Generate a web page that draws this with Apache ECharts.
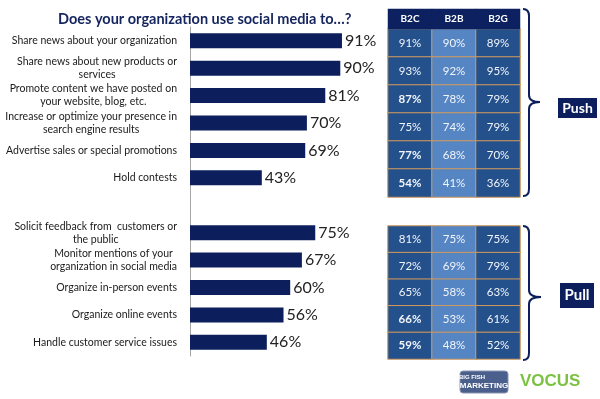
<!DOCTYPE html>
<html>
<head>
<meta charset="utf-8">
<script src="https://cdn.jsdelivr.net/npm/echarts@6/dist/echarts.min.js"></script>
<style>html,body{margin:0;padding:0;background:#fff;}#c{width:600px;height:399px;}</style>
</head>
<body>
<div id="c"></div>
<script>
// ---- data ----
const categories = [
  'Share news about your organization',
  'Share news about new products or\nservices',
  'Promote content we have posted on\nyour website, blog, etc.',
  'Increase or optimize your presence in\nsearch engine results',
  'Advertise sales or special promotions',
  'Hold contests',
  '',
  'Solicit feedback from  customers or\nthe public',
  'Monitor mentions of your\norganization in social media',
  'Organize in-person events',
  'Organize online events',
  'Handle customer service issues'
];
const totals = [91, 90, 81, 70, 69, 43, null, 75, 67, 60, 56, 46];
const segments = ['B2C', 'B2B', 'B2G'];
const pushTable = [
  [91, 90, 89],
  [93, 92, 95],
  [87, 78, 79],
  [75, 74, 79],
  [77, 68, 70],
  [54, 41, 36]
];
const pullTable = [
  [81, 75, 75],
  [72, 69, 79],
  [65, 58, 63],
  [66, 53, 61],
  [59, 48, 52]
];
const pushBold = ['2-0', '4-0', '5-0'];
const pullBold = ['3-0', '4-0'];
const groupNames = ['Push', 'Pull'];

// ---- style ----
const NAVY = '#0c1f5c';
const colColors = ['#24508b', '#5585c3', '#24508b'];
const FONT = 'Lato';

function tableData(tbl, boldList) {
  const out = [];
  tbl.forEach((row, r) => row.forEach((v, c) => {
    out.push({
      value: [c, r, v],
      itemStyle: { color: colColors[c] },
      label: { fontWeight: boldList.indexOf(r + '-' + c) >= 0 ? 'bold' : 'normal' }
    });
  }));
  return out;
}
function hideAxis(extra) {
  return Object.assign({ show: false }, extra);
}
// curly brace decoration built from lines and curves
function brace(x0, xs, xt, yTop, yMid, yBot) {
  const st = { stroke: NAVY, lineWidth: 2, fill: 'none' };
  const r = 7;
  return [
    { type: 'bezierCurve', shape: { x1: x0, y1: yTop, x2: xs, y2: yTop + r, cpx1: xs, cpy1: yTop }, style: st },
    { type: 'line', shape: { x1: xs, y1: yTop + r, x2: xs, y2: yMid - r }, style: st },
    { type: 'bezierCurve', shape: { x1: xs, y1: yMid - r, x2: xt, y2: yMid, cpx1: xs, cpy1: yMid }, style: st },
    { type: 'bezierCurve', shape: { x1: xt, y1: yMid, x2: xs, y2: yMid + r, cpx1: xs, cpy1: yMid }, style: st },
    { type: 'line', shape: { x1: xs, y1: yMid + r, x2: xs, y2: yBot - r }, style: st },
    { type: 'bezierCurve', shape: { x1: xs, y1: yBot - r, x2: x0, y2: yBot, cpx1: xs, cpy1: yBot }, style: st }
  ];
}
const cellLabel = {
  show: true, color: '#f2f5fb', fontSize: 11.5, fontFamily: FONT,
  formatter: p => p.data.value[2] + '%'
};
const cellItem = { borderColor: '#d39a5c', borderWidth: 1 };

const chart = echarts.init(document.getElementById('c'), null, { renderer: 'canvas' });
chart.setOption({
  animation: false,
  backgroundColor: '#ffffff',
  title: {
    text: 'Does your organization use social media to…?',
    left: 53, top: 7,
    textStyle: { fontFamily: FONT, fontWeight: 'bold', fontSize: 14.5, color: '#14245e' }
  },
  grid: [
    { left: 190, top: 27, width: 167, height: 329 },
    { left: 388, top: 29, width: 132, height: 168 },
    { left: 388, top: 226, width: 132, height: 133 },
    { left: 388, top: 9, width: 132, height: 20 }
  ],
  xAxis: [
    { gridIndex: 0, type: 'value', min: 0, max: 100, show: false },
    hideAxis({ gridIndex: 1, type: 'category', data: segments }),
    hideAxis({ gridIndex: 2, type: 'category', data: segments }),
    hideAxis({ gridIndex: 3, type: 'category', data: segments })
  ],
  yAxis: [
    {
      gridIndex: 0, type: 'category', data: categories, inverse: true,
      axisLine: { show: true, lineStyle: { color: '#a6a6a6', width: 1 } },
      axisTick: { show: false },
      axisLabel: {
        margin: 13, align: 'right',
        formatter: v => v ? v.split('\n').map(l => '{c|' + l + '}').join('\n') : '',
        rich: { c: { align: 'center', fontFamily: FONT, fontSize: 10.5, color: '#1a1a1a', lineHeight: 13 } }
      }
    },
    hideAxis({ gridIndex: 1, type: 'category', data: pushTable.map((_, i) => i), inverse: true }),
    hideAxis({ gridIndex: 2, type: 'category', data: pullTable.map((_, i) => i), inverse: true }),
    hideAxis({ gridIndex: 3, type: 'category', data: [0] })
  ],
  series: [
    {
      type: 'bar', xAxisIndex: 0, yAxisIndex: 0, data: totals, barWidth: 15,
      itemStyle: { color: NAVY },
      label: {
        show: true, position: 'right', distance: 3, fontFamily: FONT, fontSize: 16, color: '#222',
        formatter: p => p.value + '%'
      },
      emphasis: { disabled: true }
    },
    {
      type: 'heatmap', xAxisIndex: 1, yAxisIndex: 1, data: tableData(pushTable, pushBold),
      label: cellLabel, itemStyle: cellItem, emphasis: { disabled: true }
    },
    {
      type: 'heatmap', xAxisIndex: 2, yAxisIndex: 2, data: tableData(pullTable, pullBold),
      label: cellLabel, itemStyle: cellItem, emphasis: { disabled: true }
    },
    {
      type: 'heatmap', xAxisIndex: 3, yAxisIndex: 3,
      data: segments.map((s, i) => ({ value: [i, 0, 0], name: s })),
      itemStyle: { color: '#0d2160', borderWidth: 0 },
      label: { show: true, color: '#fff', fontFamily: FONT, fontWeight: 'bold', fontSize: 10, formatter: p => segments[p.data.value[0]] },
      emphasis: { disabled: true }
    }
  ],
  graphic: [].concat(
    brace(523, 529, 540, 9, 102, 196),
    brace(523, 529, 541, 226, 297, 360),
    [
      { type: 'rect', shape: { x: 558, y: 98, width: 39, height: 20 }, style: { fill: NAVY } },
      { type: 'text', x: 577.5, y: 108, style: { text: groupNames[0], fill: '#fff', font: 'bold 14px Lato', align: 'center', verticalAlign: 'middle' } },
      { type: 'rect', shape: { x: 560, y: 283, width: 34, height: 25 }, style: { fill: NAVY } },
      { type: 'text', x: 577, y: 295.5, style: { text: groupNames[1], fill: '#fff', font: 'bold 15px Lato', align: 'center', verticalAlign: 'middle' } },
      { type: 'rect', shape: { x: 460, y: 371, width: 48, height: 22, r: 3 }, style: { fill: '#4b5f8c', stroke: '#8a96b0', lineWidth: 1 } },
      { type: 'text', x: 472, y: 377, style: { text: 'BIG FISH', fill: '#fff', font: 'bold 6px "Liberation Sans"', align: 'center', verticalAlign: 'middle' } },
      { type: 'text', x: 484, y: 386, style: { text: 'MARKETING', fill: '#fff', font: 'bold 8px "Liberation Sans"', align: 'center', verticalAlign: 'middle' } },
      { type: 'text', x: 520, y: 381, style: { text: 'VOCUS', fill: '#7cc242', font: 'bold 17px "Liberation Sans"', align: 'left', verticalAlign: 'middle' } }
    ]
  )
});
</script>
</body>
</html>
